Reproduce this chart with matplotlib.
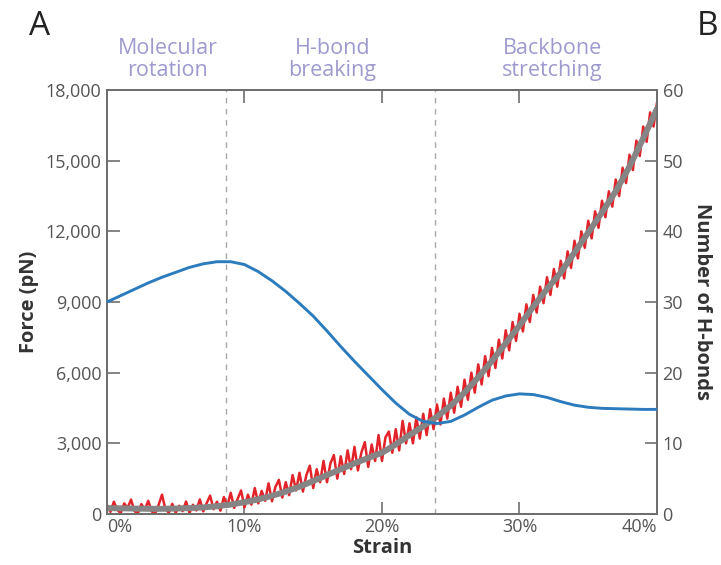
import matplotlib.pyplot as plt

plt.rcParams['font.family'] = ['Open Sans', 'DejaVu Sans']

# ------------------------------------------------------------
# data (strain in %, force in pN, number of H-bonds)
# ------------------------------------------------------------
strain_smooth = list(range(0, 41))
force_smooth = [250, 240, 230, 220, 220, 230, 250, 280, 330, 400,
                500, 620, 770, 950, 1160, 1400, 1650, 1900, 2150, 2380,
                2600, 2950, 3350, 3720, 4130, 4600, 5150, 5800, 6500, 7250,
                8000, 8800, 9550, 10250, 11100, 11950, 12800, 13700, 14750, 15950,
                17200]

# raw force trace, every 0.25 % strain
strain_raw = [i * 0.25 for i in range(161)]
force_raw = [380, 90, 520, 170, 40, 450, 260, 610, 120, 30,
             420, 180, 560, 110, 20, 380, 820, 200, 60, 430,
             50, 350, 120, 530, 40, 390, 150, 620, 110, 460,
             780, 200, 520, 140, 720, 330, 900, 260, 640, 1000,
             280, 820, 400, 1100, 450, 980, 560, 1300, 540, 1150,
             1450, 700, 1350, 800, 1650, 1000, 1750, 950, 1650, 2050,
             1100, 1900, 1350, 2250, 1350, 2150, 2500, 1500, 2450, 1700,
             2700, 1900, 2850, 1850, 2600, 3050, 2000, 2950, 2250, 3350,
             2250, 3250, 3500, 2600, 3600, 2700, 3950, 3000, 3850, 3000,
             4100, 3200, 4250, 3350, 4450, 3600, 4650, 3800, 4900, 4050,
             5150, 4300, 5400, 4550, 5700, 4850, 6000, 5150, 6350, 5500,
             6700, 5850, 7050, 6200, 7400, 6600, 7800, 6950, 8150, 7350,
             8500, 7750, 8900, 8150, 9300, 8550, 9650, 8950, 10050, 9300,
             10400, 9650, 10750, 10000, 11150, 10450, 11600, 10850, 12000, 11300,
             12450, 11700, 12850, 12150, 13300, 12600, 13700, 13050, 14200, 13500,
             14700, 14050, 15250, 14600, 15850, 15200, 16450, 15800, 17050, 16450,
             17450]

hbonds = [30.0, 30.9, 31.8, 32.7, 33.5, 34.2, 34.9, 35.4, 35.7, 35.7,
          35.3, 34.3, 33.0, 31.5, 29.8, 28.0, 25.9, 23.7, 21.6, 19.6,
          17.6, 15.7, 14.1, 13.1, 12.8, 13.1, 14.0, 15.1, 16.1, 16.7,
          17.0, 16.9, 16.5, 15.9, 15.4, 15.1, 14.95, 14.9, 14.85, 14.8,
          14.8]

phase_bounds = [8.65, 23.85]
phase_names = ["Molecular\nrotation", "H-bond\nbreaking", "Backbone\nstretching"]
phase_centers = [4.4, 16.4, 32.4]

x_ticks = [0, 10, 20, 30, 40]
x_labels = ["0%", "10%", "20%", "30%", "40%"]
f_ticks = [0, 3000, 6000, 9000, 12000, 15000, 18000]
h_ticks = [0, 10, 20, 30, 40, 50, 60]

# ------------------------------------------------------------
# figure
# ------------------------------------------------------------
fig = plt.figure(figsize=(7.21, 5.65), dpi=100)
ax = fig.add_axes([0.1484, 0.0903, 0.7628, 0.7504])
ax2 = ax.twinx()

spine_c = "#6e6e6e"
tick_c = "#555555"
label_c = "#333333"

for b in phase_bounds:
    ax.axvline(b, color="#a8a8a8", lw=1.0, ls=(0, (4, 4)), zorder=1)

ax.plot(strain_raw, force_raw, color="#e2232a", lw=1.8, zorder=2)
ax.plot(strain_smooth, force_smooth, color="#858585", lw=4.3, zorder=3,
        solid_capstyle="round")
ax2.plot(strain_smooth, hbonds, color="#2b7bbd", lw=2.1, zorder=4)

ax.set_xlim(0, 40)
ax.set_ylim(0, 18000)
ax2.set_ylim(0, 60)

ax.set_xticks(x_ticks)
ax.set_xticklabels(x_labels)
ax.set_yticks(f_ticks)
ax.set_yticklabels([f"{v:,}" for v in f_ticks])
ax2.set_yticks(h_ticks)

ax.tick_params(axis="x", direction="in", length=9, width=1.2, color=spine_c,
               labelsize=13, labelcolor=tick_c, top=True, pad=3)
ax.tick_params(axis="y", direction="in", length=9, width=1.2, color=spine_c,
               labelsize=13, labelcolor=tick_c, pad=4)
ax2.tick_params(axis="y", direction="in", length=9, width=1.2, color=spine_c,
                labelsize=13, labelcolor=tick_c, pad=4)

xl = ax.get_xticklabels()
xl[0].set_horizontalalignment("left")
xl[-1].set_horizontalalignment("right")

for a in (ax, ax2):
    for s in a.spines.values():
        s.set_color(spine_c)
        s.set_linewidth(1.3)

ax.set_xlabel("Strain", fontsize=14.5, fontweight="bold", color=label_c, labelpad=1)
ax.set_ylabel("Force (pN)", fontsize=14.5, fontweight="bold", color=label_c, labelpad=5)
ax2.set_ylabel("Number of H-bonds", fontsize=14.5, fontweight="bold", color=label_c,
               rotation=-90, labelpad=21)

for name, xc in zip(phase_names, phase_centers):
    ax.text(xc, 1.072, name, transform=ax.get_xaxis_transform(), ha="center",
            va="center", fontsize=15.5, color="#9d9acf", linespacing=1.12)

fig.text(0.040, 0.953, "A", fontsize=24, color="#222222", ha="left", va="center")
fig.text(0.966, 0.953, "B", fontsize=24, color="#222222", ha="left", va="center")

fig.savefig("out.png", dpi=100)
